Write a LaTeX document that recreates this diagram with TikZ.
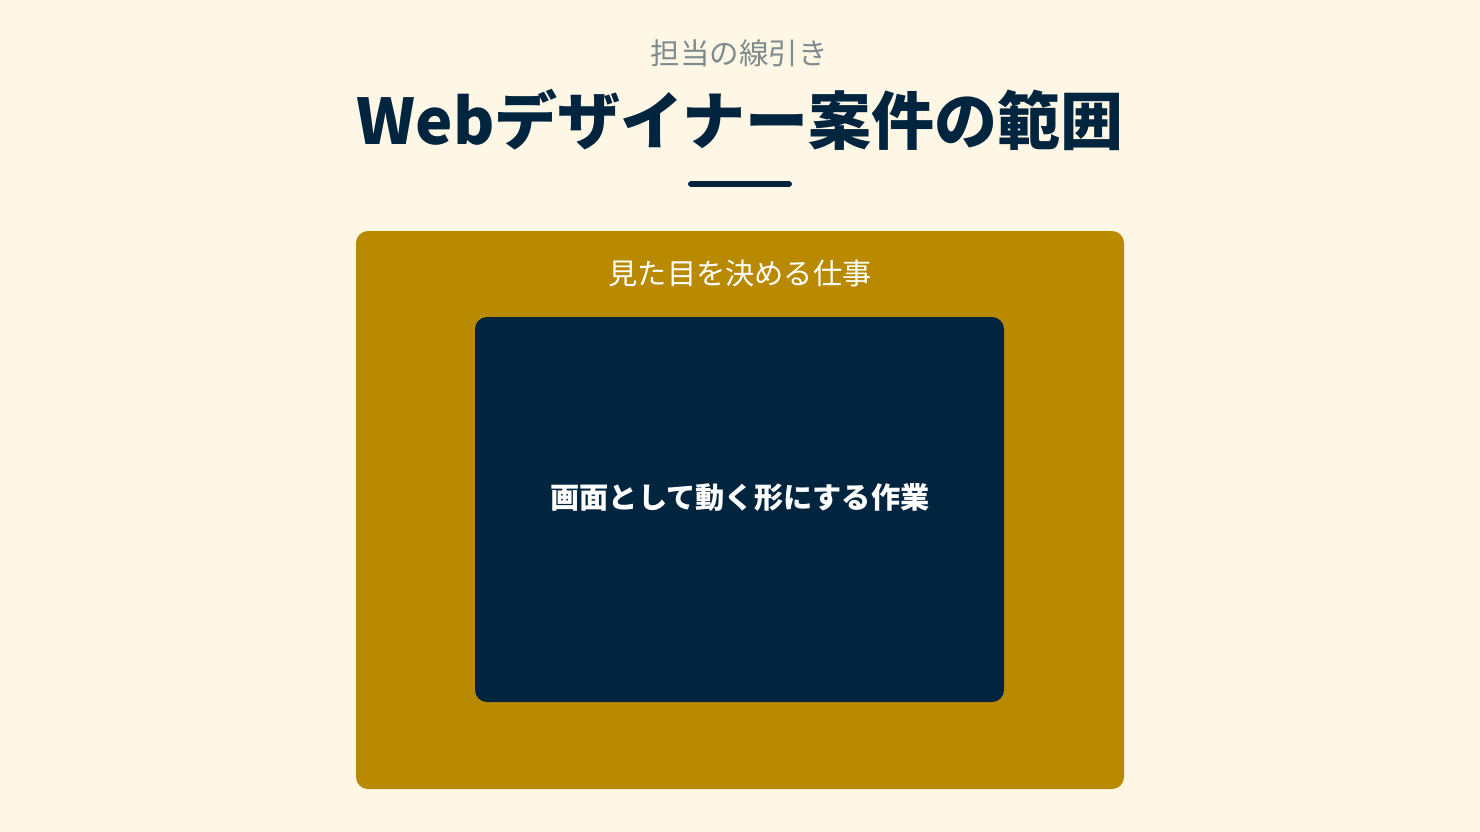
\documentclass[tikz,border=0pt]{standalone}
\usepackage{fontspec}
\setmainfont{Noto Sans CJK JP}
\usepackage{tikz}

\definecolor{cream}{HTML}{FEF7E6}
\definecolor{navy}{HTML}{02253F}
\definecolor{gold}{HTML}{B98900}
\definecolor{slate}{HTML}{7F8C8D}

\begin{document}
\begin{tikzpicture}[x=1pt,y=-1pt]
		\tikzstyle{every node}+=[inner sep=0pt]
		\tikzstyle{boxstyle}=[rectangle, rounded corners=12pt]
		\fill [cream] (0,0) rectangle (1480,832);
		\useasboundingbox (0,0) rectangle (1480,832);
		% heading
		\node [text=slate, font=\fontsize{29.5}{34}\selectfont] (kicker) at (739,53) {担当の線引き};
		\node [text=navy, font=\fontsize{63}{72}\selectfont\bfseries] (title) at (740,120) {Webデザイナー案件の範囲};
		\coordinate (barl) at (691,184);
		\coordinate (barr) at (789,184);
		\draw [navy, line width=6pt, line cap=round] (barl) -- (barr);
		% nested boxes
		\node [boxstyle, fill=gold, minimum width=768pt, minimum height=558pt] (design) at (740,510) {};
		\node [text=white, font=\fontsize{29.2}{34}\selectfont] (designlbl) at (740,273) {見た目を決める仕事};
		\node [boxstyle, fill=navy, minimum width=529pt, minimum height=385pt] (build) at (739.5,509.5) {};
		\node [text=white, font=\fontsize{29.2}{34}\selectfont\bfseries] (buildlbl) at (740,498) {画面として動く形にする作業};
	\end{tikzpicture}
\end{document}
